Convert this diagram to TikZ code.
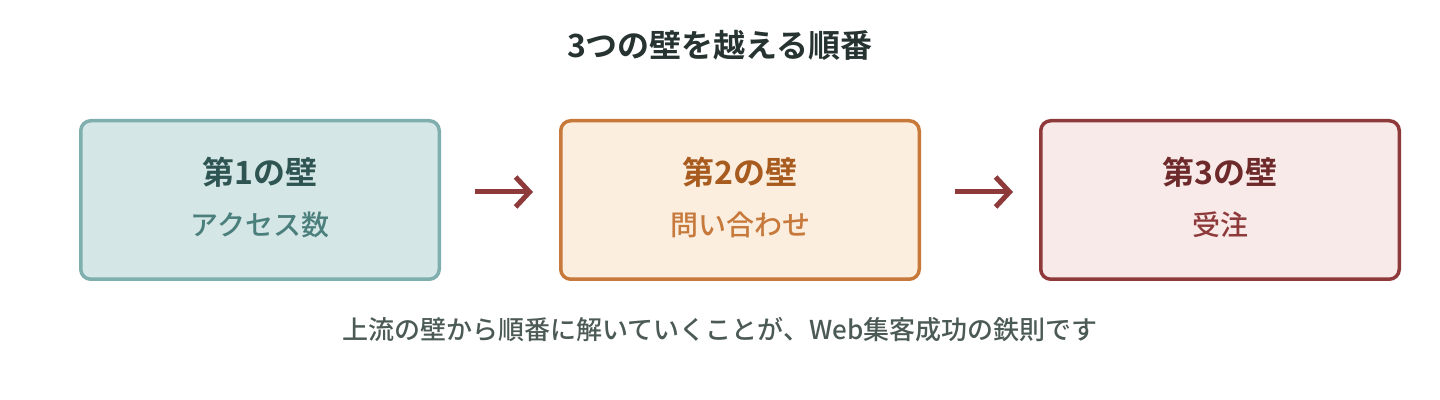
\documentclass[tikz,border=0pt]{standalone}
\usepackage{fontspec}
\setmainfont{Noto Sans CJK JP}[BoldFont={Noto Sans CJK JP Bold}]
\newfontfamily\mediumjp{Noto Sans CJK JP Medium}
\usetikzlibrary{positioning,arrows.meta}

\definecolor{inkdark}{HTML}{263330}
\definecolor{inkgray}{HTML}{4C5A56}
\definecolor{tealline}{HTML}{7FAEAE}
\definecolor{tealfill}{HTML}{D5E6E6}
\definecolor{tealhead}{HTML}{2E5552}
\definecolor{tealtext}{HTML}{4A7F7C}
\definecolor{amberline}{HTML}{C6793B}
\definecolor{amberfill}{HTML}{FBEEDF}
\definecolor{amberhead}{HTML}{A85B1E}
\definecolor{ambertext}{HTML}{C6793B}
\definecolor{wineline}{HTML}{8E3A3A}
\definecolor{winefill}{HTML}{F9EAEA}
\definecolor{winehead}{HTML}{6E2A2A}
\definecolor{winetext}{HTML}{8E3A3A}

\tikzset{
  wall/.style={draw, line width=1.75pt, rounded corners=5pt,
    minimum width=179.25pt, minimum height=79.25pt},
  wallhead/.style={font=\fontsize{16}{19}\selectfont\bfseries},
  wallsub/.style={font=\fontsize{14}{17}\selectfont\mediumjp},
  flow/.style={draw=wineline, line width=2.5pt,
    -{Straight Barb[length=7pt,width=15pt]}}
}

\begin{document}
\begin{tikzpicture}[x=0.5pt,y=0.5pt]
  \useasboundingbox (0,0) rectangle (1440,400);
  % heading
  \node[font=\fontsize{16}{19}\selectfont\bfseries, text=inkdark] (heading) at (720,355) {3つの壁を越える順番};
  % the three walls
  \node[wall, draw=tealline, fill=tealfill] (wall1) at (260,200) {};
  \node[wall, draw=amberline, fill=amberfill] (wall2) at (740,200) {};
  \node[wall, draw=wineline, fill=winefill] (wall3) at (1220,200) {};
  \node[wallhead, text=tealhead] (wall1head) at ([yshift=14pt]wall1.center) {第1の壁};
  \node[wallsub, text=tealtext] (wall1sub) at ([yshift=-12.5pt]wall1.center) {アクセス数};
  \node[wallhead, text=amberhead] (wall2head) at ([yshift=14pt]wall2.center) {第2の壁};
  \node[wallsub, text=ambertext] (wall2sub) at ([yshift=-12.5pt]wall2.center) {問い合わせ};
  \node[wallhead, text=winehead] (wall3head) at ([yshift=14pt]wall3.center) {第3の壁};
  \node[wallsub, text=winetext] (wall3sub) at ([yshift=-12.5pt]wall3.center) {受注};
  % arrows
  \draw[flow, shorten <=17pt, shorten >=13pt] ([yshift=4pt]wall1.east) -- ([yshift=4pt]wall2.west);
  \draw[flow, shorten <=17pt, shorten >=13pt] ([yshift=4pt]wall2.east) -- ([yshift=4pt]wall3.west);
  % note
  \node[font=\fontsize{13}{16}\selectfont\mediumjp, text=inkgray] (note) at (720,70) {上流の壁から順番に解いていくことが、Web集客成功の鉄則です};
\end{tikzpicture}
\end{document}
